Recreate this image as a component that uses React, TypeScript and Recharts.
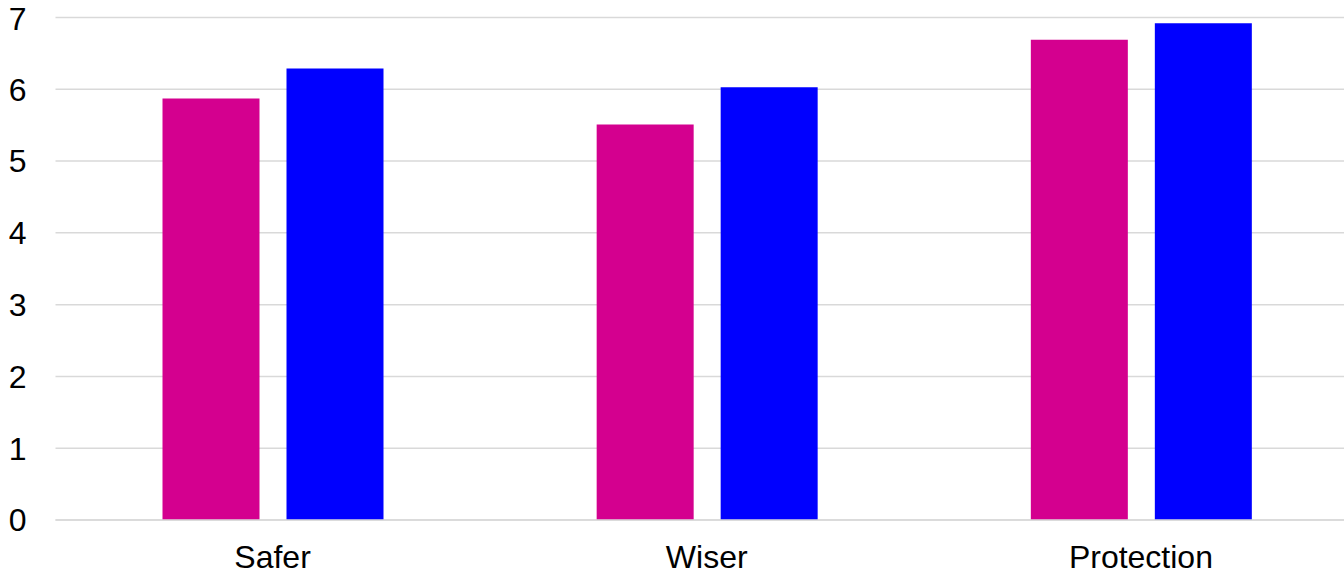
import { BarChart, Bar, XAxis, YAxis, CartesianGrid } from 'recharts';

const categories = ['Safer', 'Wiser', 'Protection'];
const pinkValues = [5.87, 5.51, 6.69];
const blueValues = [6.29, 6.03, 6.92];
const yTicks = [0, 1, 2, 3, 4, 5, 6, 7];

const data = categories.map((name, i) => ({
  name,
  pink: pinkValues[i],
  blue: blueValues[i],
}));

const font = '"Liberation Sans", Arial, sans-serif';
const tickStyle = { fontSize: 32, fill: '#000', fontFamily: font };

export default function App() {
  return (
    <div style={{ position: 'fixed', left: 0, top: 0, width: 1344, height: 574, overflow: 'hidden', background: '#fff' }}>
      <BarChart
        width={1358}
        height={574}
        data={data}
        margin={{ top: 17.5, right: 0, bottom: 0, left: 0 }}
        barGap={27}
      >
        <CartesianGrid vertical={false} stroke="#d9d9d9" strokeWidth={1.5} />
        <XAxis
          dataKey="name"
          height={54}
          tick={tickStyle}
          tickLine={false}
          axisLine={{ stroke: '#d9d9d9', strokeWidth: 1.5 }}
          tickMargin={19}
        />
        <YAxis
          domain={[0, 7]}
          ticks={yTicks}
          width={55.5}
          tick={tickStyle}
          tickLine={false}
          axisLine={false}
          tickMargin={23}
        />
        <Bar dataKey="pink" fill="#D4008F" barSize={97} isAnimationActive={false} />
        <Bar dataKey="blue" fill="#0000FF" barSize={97} isAnimationActive={false} />
      </BarChart>
    </div>
  );
}
